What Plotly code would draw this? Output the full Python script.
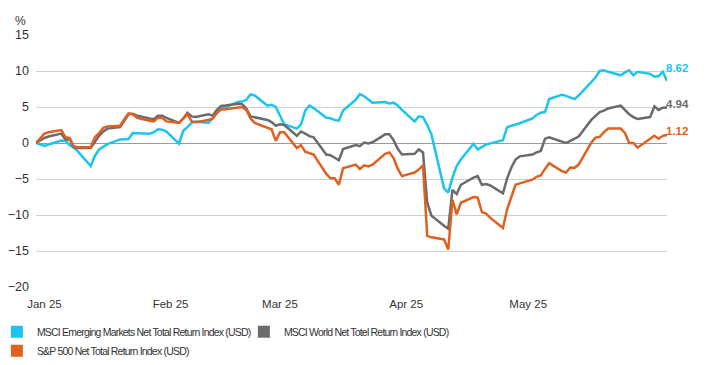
import pandas as pd
import plotly.graph_objects as go

# Trading dates (base 31 Dec 2024, then weekdays Jan-May 2025)
dates = [pd.Timestamp("2024-12-31")] + list(pd.bdate_range("2025-01-02", "2025-05-30"))

em = [0,
      -0.4, -0.2, 0.35, 0.3, -0.3, -0.65, -1.2, -3.2, -1.8, -0.9, -0.5, -0.15, 0.5, 0.5, 0.55, 1.4, 1.4, 1.3, 1.5, 1.9, 1.85, 1.6,
      -0.1, 1.7, 2.2, 2.8, 3.0, 2.8, 3.4, 4.2, 4.85, 4.95, 5.7, 5.75, 6.0, 6.75, 6.6, 5.2, 5.3, 5.0, 3.7, 2.6,
      2.0, 2.6, 4.5, 5.2, 4.85, 3.5, 3.45, 3.2, 3.1, 4.5, 6.0, 6.8, 6.5, 6.0, 5.6, 5.7, 5.5, 5.6, 5.2, 4.6, 3.0,
      3.7, 3.6, 2.5, 1.2, -6.3, -6.9, -4.8, -3.2, -2.3, -0.1, -0.9, -0.6, -0.2, -0.05, 0.4, 2.2, 2.35, 2.5, 2.75, 3.4, 3.9, 4.2,
      4.3, 6.1, 6.7, 6.55, 6.3, 6.1, 6.6, 8.5, 9.1, 10.0, 10.1, 9.9, 9.4, 9.8, 10.1, 9.4, 9.9, 9.6, 9.2, 9.3, 9.9, 8.62]

world = [0,
         0.7, 0.9, 1.3, 0.5, 0.5, -0.6, -0.7, -0.7, 0.2, 1.0, 1.6, 2.0, 2.2, 3.1, 4.0, 4.05, 3.8, 3.4, 3.3, 3.8, 3.8, 3.5,
         2.8, 3.4, 4.2, 3.7, 3.6, 4.0, 3.8, 4.6, 5.15, 5.2, 5.45, 5.4, 4.8, 3.7, 3.6, 3.2, 2.9, 2.4, 2.6, 2.5,
         1.0, 1.6, 1.3, 0.95, 0.8, -1.6, -1.7, -2.0, -2.4, -0.85, -0.3, -0.45, 0.05, -0.05, 0.1, 1.2, 1.2, 0.4, -0.8, -1.6, -1.5,
         -0.9, -1.3, -8.3, -10.1, -11.5, -11.9, -6.5, -7.1, -5.8, -4.8, -4.6, -5.8, -5.7, -5.9, -7.0, -4.9, -3.4, -2.3, -1.85, -1.6, -1.3, -1.1,
         0.6, 0.8, 0.2, 0.0, 0.3, 0.6, 0.9, 3.2, 3.8, 4.3, 4.5, 4.8, 5.2, 4.6, 4.0, 3.6, 3.35, 3.6, 5.1, 4.6, 4.9, 4.94]

sp500 = [0,
         1.3, 1.5, 1.8, 0.8, 0.7, -0.5, -0.6, -0.6, 0.8, 1.35, 2.1, 2.3, 2.4, 3.3, 4.1, 4.0, 3.5, 3.1, 3.0, 3.5, 3.5, 3.0,
         2.8, 3.4, 4.0, 3.0, 2.9, 3.2, 3.4, 4.2, 4.65, 4.7, 4.9, 5.0, 4.6, 3.4, 2.8, 2.2, 1.9, 0.3, 1.5, 1.5,
         -0.7, -0.3, -1.2, -1.4, -1.6, -4.3, -4.9, -4.9, -5.8, -3.5, -3.0, -3.6, -3.1, -3.25, -3.0, -1.5, -1.3, -2.1, -3.6, -4.6, -4.1,
         -3.7, -3.1, -12.9, -13.1, -13.4, -14.8, -7.9, -9.9, -8.3, -7.5, -7.6, -9.6, -9.8, -10.4, -11.8, -9.2, -7.5, -5.8, -5.6, -5.1, -4.7, -4.5,
         -3.6, -2.8, -3.9, -4.1, -3.4, -3.45, -3.0, 0.05, 0.75, 0.85, 1.5, 2.0, 2.0, 1.4, 0.0, 0.0, -0.65, 0.6, 1.0, 0.6, 1.0, 1.12]

series_names = ["MSCI Emerging Markets Net Total Return Index (USD)",
                "MSCI World Net Totel Return Index (USD)",
                "S&P 500 Net Total Return Index (USD)"]
colors = ["#1DC4F0", "#6B6B6B", "#E0611F"]
label_shift = [5, -5, -4]

tick_dates = ["2025-01-02", "2025-02-01", "2025-02-27", "2025-03-29", "2025-04-27"]
tick_text = ["Jan 25", "Feb 25", "Mar 25", "Apr 25", "May 25"]
y_ticks = [15, 10, 5, 0, -5, -10, -15, -20]

FONT = "Liberation Sans, Arial, sans-serif"

fig = go.Figure()
for vals, name, col in zip([em, world, sp500], series_names, colors):
    fig.add_trace(go.Scatter(x=dates, y=vals, mode="lines", name=name,
                             line=dict(color=col, width=2.5), showlegend=False))
for name, col in zip(series_names, colors):
    fig.add_trace(go.Scatter(x=[None], y=[None], mode="markers",
                             name=f'<span style="letter-spacing:-0.8px">{name}</span>',
                             marker=dict(symbol="square", size=11, color=col)))

for vals, col, ys in zip([em, world, sp500], colors, label_shift):
    fig.add_annotation(x=dates[-1], y=vals[-1], text=f"<b>{vals[-1]:.2f}</b>",
                       showarrow=False, xanchor="left", yanchor="bottom",
                       xshift=-3, yshift=ys,
                       font=dict(color=col, size=11.5, family=FONT))

fig.add_annotation(x=0, xref="paper", xanchor="right", xshift=-8,
                   y=1, yref="paper", yanchor="bottom", yshift=5,
                   text="%", showarrow=False,
                   font=dict(size=12, color="#333333", family=FONT))

# page body adds an 8px offset: size/margins compensate so plot spans x 36-667, y 35-287
fig.update_layout(
    width=704, height=349,
    margin=dict(l=28, r=45, t=27, b=70, autoexpand=False),
    paper_bgcolor="white", plot_bgcolor="white",
    font=dict(family=FONT, size=12, color="#333333"),
    xaxis=dict(range=[dates[0], dates[-1]], tickvals=tick_dates, ticktext=tick_text,
               showgrid=False, showline=False, zeroline=False, ticks="",
               tickfont=dict(size=11.5), ticklabelstandoff=8, automargin=False),
    yaxis=dict(range=[-20, 15], tickvals=y_ticks, showgrid=True, gridcolor="#CFCFCF",
               gridwidth=1.2, zeroline=True, zerolinecolor="#9A9A9A", zerolinewidth=1.2,
               showline=False, ticks="", tickfont=dict(size=12.5), ticklabelstandoff=6,
               automargin=False),
    legend=dict(orientation="h", x=-0.062, xanchor="left", y=-0.12, yanchor="top",
                entrywidth=202, entrywidthmode="pixels", font=dict(size=10.5),
                itemsizing="constant", tracegroupgap=0, itemwidth=30),
)

fig.write_html("out.html")
